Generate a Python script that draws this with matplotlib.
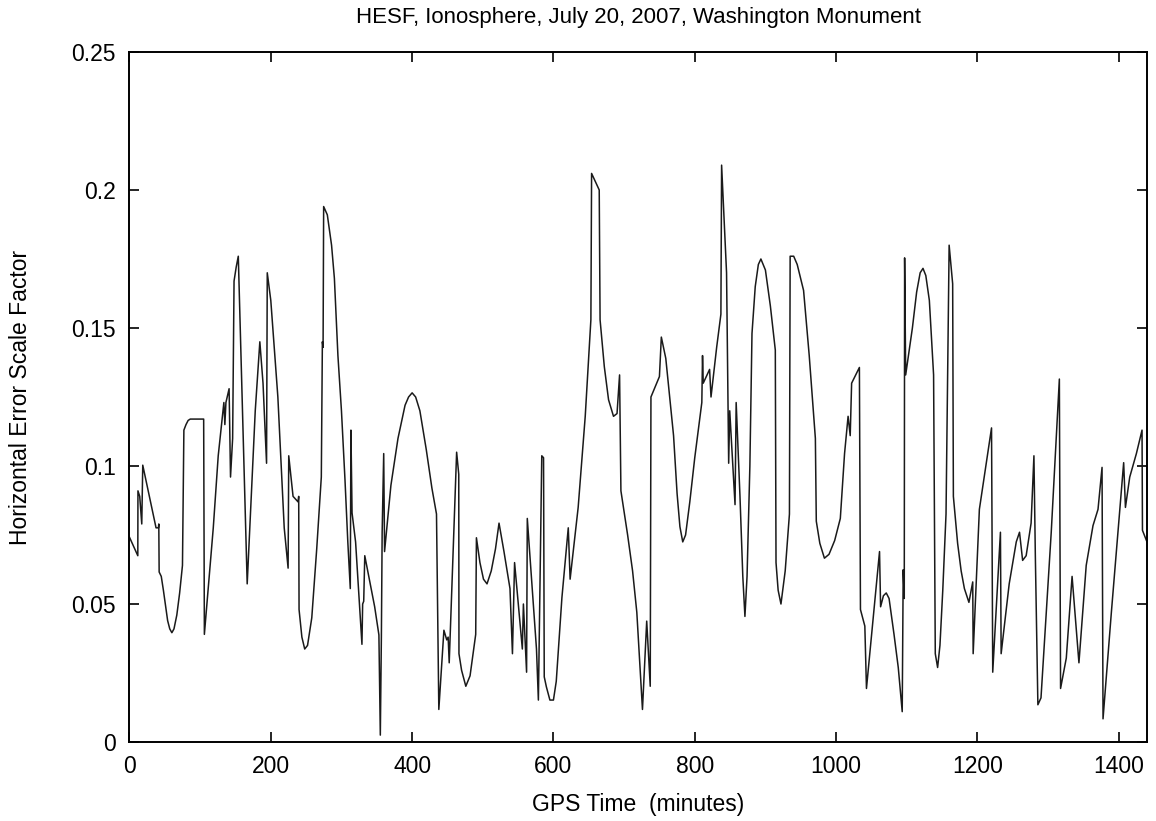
import numpy as np
import matplotlib.pyplot as plt

plt.rcParams['font.family'] = ['Liberation Sans', 'DejaVu Sans']

# GPS time (minutes)
minutes = [
    0, 11.8, 12, 14.5, 17.4, 18.8, 37.6, 41, 41.5, 42,
    45, 48, 54, 57, 60, 63, 67, 71, 75, 77,
    80, 83, 86, 105, 106, 118.6, 125.6, 133.6, 135, 136.5,
    141, 143, 146, 148, 151, 154, 166.6, 178, 184.5, 189,
    194, 195, 200, 210, 219, 224.5, 225.4, 231.5, 238.6, 239.5,
    240, 244, 248, 252, 258, 265, 271.5, 273, 274, 274.8,
    280, 286, 290, 295, 300, 305, 309, 312.5, 313.4, 315,
    320, 329, 330, 331.5, 333, 347, 353, 355, 356.5, 357.6,
    359.8, 361, 370, 380, 390, 395, 400, 405, 411, 420,
    428, 434.5, 437.8, 445, 449, 451, 452.5, 463, 466, 466.3,
    470, 476, 482, 490, 491, 496, 501, 506, 512, 518,
    523, 530, 538.5, 542, 545, 556, 557.5, 562, 563, 576,
    578.7, 583.5, 586, 587, 590, 595, 600, 604, 612, 621,
    623.6, 635, 645, 653, 654, 664.8, 666, 672, 678, 685,
    690, 693.6, 695.5, 705, 712, 718, 726, 732, 737, 738,
    750, 752.7, 759, 770, 775, 779, 783, 787, 793, 800,
    810, 811, 812, 821, 823, 831, 837, 838, 840, 845,
    848, 849.5, 857, 858.6, 864, 868, 871, 874, 878, 881,
    885.6, 890, 893.6, 900, 907, 914, 915, 918, 922, 928,
    934, 935, 940, 945, 954, 962, 970.7, 972, 977, 983.5,
    990, 998, 1006, 1012, 1017, 1020, 1022, 1033, 1034.5, 1040.7,
    1043, 1061.5, 1063, 1067, 1071, 1075, 1082, 1088, 1093.6, 1095,
    1096.5, 1097, 1098.5, 1108, 1114, 1119, 1123, 1127, 1132, 1138,
    1140.4, 1143.7, 1147, 1151, 1155.6, 1160, 1165, 1166, 1172, 1177,
    1181.6, 1188, 1193.4, 1194, 1202.8, 1220, 1221.7, 1232.6, 1233.6, 1245,
    1255, 1259.6, 1264, 1269, 1276, 1280, 1282, 1285.6, 1290, 1304.5,
    1316, 1317.7, 1325.8, 1334, 1343.7, 1354, 1363.6, 1370.7, 1376.4, 1377.8,
    1389.6, 1401.5, 1407, 1409.5, 1415.6, 1425, 1433, 1433.6, 1440,
]

# horizontal error scale factor at those times
hesf = [
    0.0742, 0.0675, 0.091, 0.089, 0.079, 0.1003, 0.0776, 0.0776, 0.079, 0.0616,
    0.060, 0.055, 0.044, 0.041, 0.0396, 0.041, 0.046, 0.054, 0.064, 0.113,
    0.115, 0.1165, 0.117, 0.117, 0.039, 0.0776, 0.1037, 0.123, 0.115, 0.123,
    0.128, 0.096, 0.110, 0.167, 0.172, 0.176, 0.0573, 0.12, 0.145, 0.130,
    0.101, 0.170, 0.16, 0.125, 0.0776, 0.063, 0.1037, 0.089, 0.087, 0.089,
    0.048, 0.038, 0.0337, 0.035, 0.045, 0.07, 0.096, 0.145, 0.143, 0.194,
    0.191, 0.18, 0.168, 0.14, 0.12, 0.095, 0.0725, 0.0556, 0.113, 0.083,
    0.0725, 0.0354, 0.05, 0.051, 0.0675, 0.049, 0.0388, 0.0025, 0.038, 0.076,
    0.1045, 0.069, 0.093, 0.110, 0.122, 0.125, 0.1265, 0.125, 0.120, 0.106,
    0.092, 0.0826, 0.0118, 0.0405, 0.037, 0.038, 0.0287, 0.105, 0.097, 0.032,
    0.026, 0.0202, 0.024, 0.039, 0.074, 0.065, 0.059, 0.0573, 0.062, 0.070,
    0.0793, 0.069, 0.0556, 0.032, 0.065, 0.0337, 0.05, 0.0253, 0.081, 0.0337,
    0.0152, 0.1037, 0.103, 0.0236, 0.02, 0.0152, 0.0152, 0.022, 0.0523, 0.0776,
    0.059, 0.085, 0.118, 0.153, 0.206, 0.2, 0.153, 0.136, 0.124, 0.118,
    0.119, 0.133, 0.091, 0.075, 0.062, 0.047, 0.0118, 0.0438, 0.0202, 0.125,
    0.1324, 0.1467, 0.139, 0.111, 0.09, 0.078, 0.0725, 0.075, 0.087, 0.103,
    0.123, 0.14, 0.13, 0.135, 0.125, 0.143, 0.155, 0.209, 0.198, 0.17,
    0.101, 0.12, 0.086, 0.123, 0.089, 0.06, 0.0455, 0.06, 0.1, 0.148,
    0.165, 0.173, 0.175, 0.171, 0.158, 0.142, 0.065, 0.055, 0.05, 0.062,
    0.0826, 0.176, 0.176, 0.173, 0.1636, 0.14, 0.11, 0.080, 0.072, 0.0666,
    0.068, 0.073, 0.081, 0.1045, 0.118, 0.111, 0.13, 0.1357, 0.048, 0.042,
    0.0194, 0.069, 0.049, 0.053, 0.054, 0.052, 0.039, 0.027, 0.011, 0.0624,
    0.052, 0.1754, 0.133, 0.15, 0.163, 0.17, 0.1716, 0.169, 0.16, 0.133,
    0.032, 0.027, 0.035, 0.055, 0.0826, 0.18, 0.166, 0.089, 0.072, 0.062,
    0.0556, 0.0506, 0.058, 0.032, 0.0843, 0.1138, 0.0253, 0.076, 0.032, 0.0573,
    0.0725, 0.076, 0.0658, 0.0675, 0.0793, 0.1037, 0.0675, 0.0135, 0.016, 0.076,
    0.1315, 0.0194, 0.0304, 0.06, 0.0287, 0.064, 0.0784, 0.0843, 0.0995, 0.0084,
    0.047, 0.0843, 0.1012, 0.085, 0.096, 0.1045, 0.113, 0.0767, 0.0725,
]

fig = plt.figure(figsize=(11.56, 8.21), dpi=100)
ax = fig.add_axes([0.112, 0.0962, 0.8802, 0.8405])

ax.plot(minutes, hesf, color='#1a1a1a', linewidth=1.1)

ax.set_xlim(0, 1440)
ax.set_ylim(0, 0.25)
ax.set_xticks(np.arange(0, 1401, 200))
ax.set_yticks([0, 0.05, 0.1, 0.15, 0.2, 0.25])
ax.set_yticklabels(['0', '0.05', '0.1', '0.15', '0.2', '0.25'])
ax.tick_params(direction='in', top=True, right=True, length=7, width=1.2, labelsize=16.5)
ax.tick_params(axis='x', pad=9)
ax.tick_params(axis='y', pad=10)
for s in ax.spines.values():
    s.set_linewidth(1.4)

ax.set_xlabel("GPS Time  (minutes)", fontsize=16.5, labelpad=11)
ax.set_ylabel("Horizontal Error Scale Factor", fontsize=16.5, labelpad=28)
ax.set_title("HESF, Ionosphere, July 20, 2007, Washington Monument", fontsize=16, pad=21)

fig.savefig("out.png", dpi=100)
